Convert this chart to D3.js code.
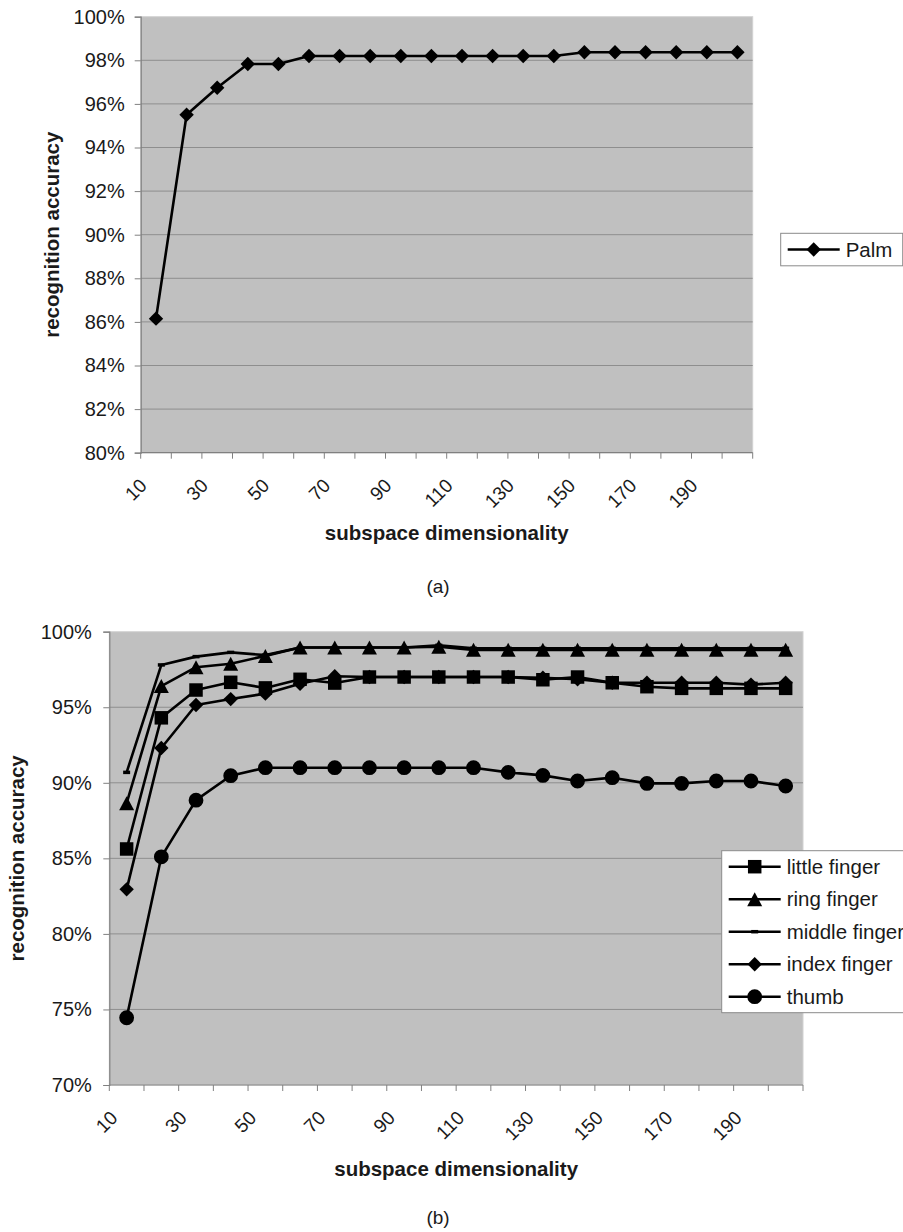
<!DOCTYPE html>
<html>
<head>
<meta charset="utf-8">
<script src="https://cdn.jsdelivr.net/npm/d3@7/dist/d3.min.js"></script>
<style>
  body { margin: 0; background: #ffffff; }
  svg { display: block; font-family: "Liberation Sans", Arial, Helvetica, sans-serif; }
</style>
</head>
<body>
<script>
// Subspace dimensionality categories (x axis) and the labels shown under it
const dimensions = [10, 20, 30, 40, 50, 60, 70, 80, 90, 100, 110, 120, 130, 140, 150, 160, 170, 180, 190, 200];
const dimensionLabels = [10, 30, 50, 70, 90, 110, 130, 150, 170, 190];

// (a) palm recognition accuracy, %
const palmAccuracy = [86.15, 95.5, 96.74, 97.83, 97.83, 98.2, 98.2, 98.2, 98.2, 98.2,
                      98.2, 98.2, 98.2, 98.2, 98.37, 98.37, 98.37, 98.37, 98.37, 98.37];

// (b) finger recognition accuracy, %
const littleFinger = [85.62, 94.3, 96.14, 96.65, 96.28, 96.85, 96.6, 97.0, 97.0, 97.0,
                      97.0, 97.0, 96.82, 97.0, 96.62, 96.36, 96.25, 96.25, 96.25, 96.25];
const ringFinger   = [88.65, 96.4, 97.65, 97.88, 98.4, 98.95, 98.95, 98.95, 98.95, 99.0,
                      98.8, 98.8, 98.8, 98.8, 98.8, 98.8, 98.8, 98.8, 98.8, 98.8];
const middleFinger = [90.69, 97.8, 98.35, 98.63, 98.45, 98.95, 98.95, 98.95, 98.95, 99.1,
                      98.9, 98.9, 98.9, 98.9, 98.9, 98.9, 98.9, 98.9, 98.9, 98.9];
const indexFinger  = [82.95, 92.3, 95.15, 95.54, 95.9, 96.56, 97.05, 97.0, 97.0, 97.0,
                      97.0, 97.0, 96.95, 96.85, 96.62, 96.62, 96.62, 96.62, 96.5, 96.62];
const thumb        = [74.45, 85.1, 88.85, 90.47, 91.0, 91.0, 91.0, 91.0, 91.0, 91.0,
                      91.0, 90.69, 90.49, 90.12, 90.34, 89.96, 89.96, 90.12, 90.12, 89.79];

// Y axis tick values
const palmTicks = [80, 82, 84, 86, 88, 90, 92, 94, 96, 98, 100];
const fingerTicks = [70, 75, 80, 85, 90, 95, 100];

const svg = d3.select("body").append("svg")
  .attr("width", 903)
  .attr("height", 1232);

// Marker shapes, centred on the data point
const markers = {
  diamond: (r = 7.2) => `M0,${-r}L${r},0L0,${r}L${-r},0Z`,
  square: (s = 13.5) => `M${-s/2},${-s/2}h${s}v${s}h${-s}Z`,
  triangle: (w = 15, h = 14) => `M0,${-h/2}L${w/2},${h/2}L${-w/2},${h/2}Z`,
  circle: (r = 7.4) => `M${r},0A${r},${r} 0 1,1 ${-r},0A${r},${r} 0 1,1 ${r},0Z`,
  dash: (w = 7, h = 3.5) => `M${-w/2},${-h/2}h${w}v${h}h${-w}Z`
};

function drawPanel(p) {
  const g = svg.append("g");
  const x = d3.scaleBand().domain(dimensions).range([p.left, p.right]).padding(0);
  const y = d3.scaleLinear().domain(p.yDomain).range([p.bottom, p.top]);
  const cx = d => x(d) + x.bandwidth() / 2;

  // plot area
  g.append("rect")
    .attr("x", p.left).attr("y", p.top)
    .attr("width", p.right - p.left).attr("height", p.bottom - p.top)
    .attr("fill", "#c0c0c0").attr("stroke", "#d2d2d2").attr("stroke-width", 1);

  // horizontal gridlines
  g.append("g").selectAll("line")
    .data(p.yTicks.slice(1, -1))
    .join("line")
    .attr("x1", p.left).attr("x2", p.right)
    .attr("y1", d => y(d)).attr("y2", d => y(d))
    .attr("stroke", "#8e8e8e").attr("stroke-width", 1);

  // y axis
  const yAxis = g.append("g")
    .attr("transform", `translate(${p.left},0)`)
    .call(d3.axisLeft(y).tickValues(p.yTicks).tickSize(6).tickPadding(p.yPad)
      .tickFormat(d => d + "%"));
  yAxis.select(".domain").attr("stroke", "#808080").attr("stroke-width", 1.2);
  yAxis.selectAll(".tick line").attr("stroke", "#808080");
  yAxis.selectAll(".tick text")
    .attr("fill", "#1a1a1a").attr("font-size", 20).attr("font-family", null);

  // x axis line and category boundary ticks
  g.append("line")
    .attr("x1", p.left).attr("x2", p.right)
    .attr("y1", p.bottom).attr("y2", p.bottom)
    .attr("stroke", "#808080").attr("stroke-width", 1.2);
  const bounds = dimensions.map(d => x(d)).concat([x.range()[1]]);
  g.append("g").selectAll("line")
    .data(bounds)
    .join("line")
    .attr("x1", d => d).attr("x2", d => d)
    .attr("y1", p.bottom).attr("y2", p.bottom + 6)
    .attr("stroke", "#808080").attr("stroke-width", 1);

  // rotated category labels
  g.append("g").selectAll("text")
    .data(dimensionLabels)
    .join("text")
    .attr("transform", d => `translate(${cx(d) - 8},${p.bottom + 34}) rotate(-45)`)
    .attr("text-anchor", "end")
    .attr("font-size", 19)
    .attr("fill", "#1a1a1a")
    .text(d => d);

  // series lines and markers
  const line = d3.line().x((v, i) => cx(dimensions[i])).y(v => y(v));
  p.series.forEach(s => {
    g.append("path")
      .attr("d", line(s.values))
      .attr("fill", "none").attr("stroke", "#000")
      .attr("stroke-width", 2.6).attr("stroke-linejoin", "round");
    g.append("g").selectAll("path")
      .data(s.values)
      .join("path")
      .attr("transform", (v, i) => `translate(${cx(dimensions[i])},${y(v)})`)
      .attr("d", markers[s.marker]())
      .attr("fill", "#000");
  });

  // axis titles
  g.append("text")
    .attr("transform", `translate(${p.yTitleX},${(p.top + p.bottom) / 2}) rotate(-90)`)
    .attr("text-anchor", "middle")
    .attr("font-size", 20.5).attr("font-weight", "bold").attr("fill", "#1a1a1a")
    .text("recognition accuracy");
  g.append("text")
    .attr("x", (p.left + p.right) / 2).attr("y", p.xTitleY)
    .attr("text-anchor", "middle")
    .attr("font-size", 20.5).attr("font-weight", "bold").attr("fill", "#1a1a1a")
    .text("subspace dimensionality");

  // caption
  g.append("text")
    .attr("x", 438).attr("y", p.captionY)
    .attr("text-anchor", "middle")
    .attr("font-size", 19).attr("fill", "#1a1a1a")
    .text(p.caption);

  // legend
  const L = p.legend;
  const lg = g.append("g");
  lg.append("rect")
    .attr("x", L.x).attr("y", L.y).attr("width", L.w).attr("height", L.h)
    .attr("fill", "#fff").attr("stroke", "#8a8a8a").attr("stroke-width", 1);
  p.series.forEach((s, i) => {
    const ry = L.firstRow + i * L.rowGap;
    lg.append("line")
      .attr("x1", L.x + 7).attr("x2", L.x + 59)
      .attr("y1", ry).attr("y2", ry)
      .attr("stroke", "#000").attr("stroke-width", 2.6);
    lg.append("path")
      .attr("transform", `translate(${L.x + 33},${ry})`)
      .attr("d", markers[s.marker]())
      .attr("fill", "#000");
    lg.append("text")
      .attr("x", L.x + 65).attr("y", ry + 7)
      .attr("font-size", 20.5).attr("fill", "#1a1a1a")
      .text(s.name);
  });
}

// (a) palm
drawPanel({
  left: 140.7, right: 752.7, top: 16.7, bottom: 452.7,
  yDomain: [80, 100], yTicks: palmTicks, yPad: 10,
  yTitleX: 59, xTitleY: 540,
  caption: "(a)", captionY: 593,
  series: [{ name: "Palm", values: palmAccuracy, marker: "diamond" }],
  legend: { x: 780.7, y: 233.3, w: 122, h: 32.5, firstRow: 249.5, rowGap: 0 }
});

// (b) fingers
drawPanel({
  left: 109.3, right: 803, top: 631.7, bottom: 1085,
  yDomain: [70, 100], yTicks: fingerTicks, yPad: 11.5,
  yTitleX: 24, xTitleY: 1176,
  caption: "(b)", captionY: 1224,
  series: [
    { name: "little finger", values: littleFinger, marker: "square" },
    { name: "ring finger", values: ringFinger, marker: "triangle" },
    { name: "middle finger", values: middleFinger, marker: "dash" },
    { name: "index finger", values: indexFinger, marker: "diamond" },
    { name: "thumb", values: thumb, marker: "circle" }
  ],
  legend: { x: 721.7, y: 850.7, w: 200, h: 162, firstRow: 866.7, rowGap: 32.5 }
});
</script>
</body>
</html>
